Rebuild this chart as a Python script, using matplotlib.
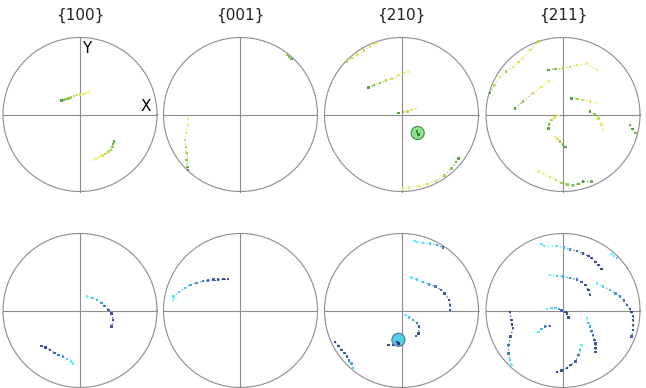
import matplotlib
matplotlib.use("Agg")
import matplotlib.pyplot as plt
import numpy as np
from matplotlib.colors import LinearSegmentedColormap
from matplotlib.collections import LineCollection
from matplotlib.patches import Circle

titles = ["{100}", "{001}", "{210}", "{211}"]

# Each arc: list of (x, y, t) in unit-circle coordinates; t = colour position
top_100 = [
    [(-0.24, 0.18, 0.0), (-0.21, 0.19, 0.1), (-0.18, 0.20, 0.2), (-0.15, 0.21, 0.3), (-0.12, 0.22, 0.4),
     (-0.08, 0.24, 0.5), (-0.04, 0.25, 0.6), (0.00, 0.26, 0.7), (0.04, 0.27, 0.8), (0.08, 0.28, 0.9), (0.12, 0.30, 1.0)],
    [(0.17, -0.59, 1.0), (0.21, -0.57, 0.9), (0.25, -0.55, 0.8), (0.29, -0.53, 0.7), (0.33, -0.51, 0.6),
     (0.37, -0.48, 0.5), (0.40, -0.46, 0.4), (0.42, -0.42, 0.3), (0.43, -0.38, 0.1), (0.44, -0.35, 0.0)],
]
top_001 = [
    [(0.61, 0.77, 0.3), (0.63, 0.75, 0.2), (0.66, 0.72, 0.0)],
    [(-0.68, -0.05, 1.0), (-0.68, -0.14, 0.9), (-0.71, -0.24, 0.75), (-0.72, -0.33, 0.6), (-0.71, -0.42, 0.5),
     (-0.70, -0.50, 0.4), (-0.70, -0.59, 0.3), (-0.69, -0.68, 0.1), (-0.68, -0.72, 0.0)],
]
top_210 = [
    [(-0.71, 0.69, 0.4), (-0.64, 0.73, 0.6), (-0.57, 0.78, 0.8), (-0.49, 0.83, 0.5), (-0.41, 0.88, 0.7), (-0.34, 0.93, 0.6)],
    [(-0.43, 0.35, 0.0), (-0.36, 0.38, 0.2), (-0.28, 0.41, 0.35), (-0.20, 0.44, 0.5), (-0.12, 0.47, 0.65),
     (-0.04, 0.51, 0.8), (0.03, 0.54, 0.9), (0.09, 0.56, 1.0)],
    [(-0.04, 0.02, 0.0), (0.02, 0.03, 0.2), (0.08, 0.04, 0.5), (0.13, 0.06, 0.8), (0.18, 0.07, 1.0)],
    [(0.02, -0.96, 1.0), (0.10, -0.95, 0.9), (0.22, -0.93, 0.8), (0.34, -0.90, 0.7), (0.45, -0.86, 0.6),
     (0.56, -0.79, 0.45), (0.65, -0.70, 0.3), (0.71, -0.62, 0.15), (0.74, -0.57, 0.0)],
]
top_211 = [
    [(-0.95, 0.28, 0.0), (-0.89, 0.38, 0.5), (-0.82, 0.49, 0.7), (-0.74, 0.56, 0.4), (-0.65, 0.62, 0.8),
     (-0.58, 0.68, 0.6), (-0.52, 0.73, 0.9), (-0.42, 0.84, 0.7), (-0.32, 0.95, 0.5)],
    [(-0.62, 0.08, 0.0), (-0.52, 0.17, 0.25), (-0.39, 0.28, 0.5), (-0.28, 0.36, 0.75), (-0.19, 0.43, 1.0)],
    [(-0.19, 0.58, 0.0), (-0.10, 0.59, 0.2), (0.00, 0.60, 0.4), (0.09, 0.62, 0.6), (0.18, 0.64, 0.7),
     (0.31, 0.66, 0.85), (0.44, 0.58, 1.0)],
    [(0.11, 0.21, 0.0), (0.19, 0.20, 0.35), (0.26, 0.19, 0.6), (0.35, 0.17, 0.8), (0.44, 0.15, 1.0)],
    [(0.35, 0.04, 0.0), (0.41, 0.00, 0.3), (0.46, -0.05, 0.6), (0.50, -0.13, 0.8), (0.52, -0.20, 1.0)],
    [(-0.06, -0.01, 1.0), (-0.11, -0.04, 0.7), (-0.15, -0.07, 0.4), (-0.18, -0.13, 0.2), (-0.19, -0.18, 0.0)],
    [(-0.10, -0.29, 1.0), (-0.07, -0.32, 0.6), (-0.04, -0.35, 0.3), (0.00, -0.39, 0.1), (0.03, -0.42, 0.0)],
    [(0.87, -0.14, 0.1), (0.90, -0.19, 0.0), (0.94, -0.24, 0.2)],
    [(-0.32, -0.74, 1.0), (-0.25, -0.77, 0.85), (-0.17, -0.81, 0.7), (-0.09, -0.85, 0.5), (-0.02, -0.89, 0.4),
     (0.06, -0.91, 0.3), (0.13, -0.92, 0.2), (0.20, -0.90, 0.1), (0.26, -0.87, 0.0), (0.37, -0.87, 0.1)],
]

bot_100 = [
    [(0.09, 0.18, 0.0), (0.16, 0.16, 0.15), (0.22, 0.14, 0.3), (0.28, 0.10, 0.45), (0.32, 0.06, 0.6),
     (0.37, 0.01, 0.75), (0.41, -0.04, 0.9), (0.43, -0.12, 1.0), (0.41, -0.21, 0.9)],
    [(-0.50, -0.46, 0.9), (-0.45, -0.48, 1.0), (-0.39, -0.51, 0.9), (-0.33, -0.55, 0.7), (-0.28, -0.58, 0.6),
     (-0.22, -0.60, 0.4), (-0.17, -0.63, 0.2), (-0.12, -0.66, 0.05), (-0.09, -0.69, 0.0)],
]
bot_001 = [
    [(-0.88, 0.14, 0.0), (-0.87, 0.18, 0.0), (-0.80, 0.24, 0.2), (-0.72, 0.29, 0.3), (-0.65, 0.33, 0.4),
     (-0.57, 0.36, 0.5), (-0.49, 0.38, 0.6), (-0.42, 0.39, 0.7), (-0.35, 0.40, 0.8), (-0.29, 0.40, 0.9),
     (-0.22, 0.41, 1.0), (-0.16, 0.41, 0.9)],
]
bot_210 = [
    [(0.17, 0.90, 0.0), (0.20, 0.89, 0.0), (0.28, 0.88, 0.1), (0.37, 0.87, 0.2), (0.46, 0.85, 0.4), (0.54, 0.82, 0.7)],
    [(0.13, 0.43, 0.0), (0.20, 0.40, 0.15), (0.28, 0.37, 0.3), (0.36, 0.34, 0.45), (0.44, 0.31, 0.6),
     (0.51, 0.27, 0.75), (0.56, 0.22, 0.85), (0.62, 0.14, 1.0), (0.63, 0.07, 0.95), (0.63, 0.01, 0.9)],
    [(0.05, -0.06, 0.0), (0.10, -0.09, 0.2), (0.15, -0.12, 0.4), (0.20, -0.16, 0.6), (0.23, -0.21, 0.8),
     (0.22, -0.30, 1.0), (0.19, -0.33, 0.9)],
    [(-0.17, -0.45, 1.0), (-0.11, -0.45, 0.9), (-0.05, -0.44, 0.8), (0.00, -0.41, 0.6)],
    [(-0.86, -0.41, 1.0), (-0.82, -0.46, 0.9), (-0.78, -0.51, 0.85), (-0.74, -0.55, 0.8), (-0.71, -0.60, 0.7),
     (-0.68, -0.65, 0.6), (-0.65, -0.69, 0.4), (-0.63, -0.75, 0.2)],
]
bot_211 = [
    [(-0.28, 0.86, 0.0), (-0.25, 0.84, 0.0), (-0.08, 0.84, 0.1), (0.01, 0.82, 0.3), (0.09, 0.79, 0.5),
     (0.18, 0.77, 0.7), (0.26, 0.74, 0.9), (0.33, 0.71, 1.0), (0.37, 0.68, 0.9), (0.42, 0.63, 1.0),
     (0.46, 0.59, 0.9), (0.50, 0.54, 1.0)],
    [(0.63, 0.73, 0.0), (0.66, 0.71, 0.0), (0.70, 0.68, 0.1)],
    [(-0.17, 0.46, 0.0), (-0.08, 0.45, 0.2), (0.00, 0.44, 0.35), (0.09, 0.42, 0.5), (0.18, 0.40, 0.65),
     (0.24, 0.37, 0.8), (0.29, 0.33, 0.9), (0.33, 0.27, 1.0), (0.35, 0.20, 0.95)],
    [(0.44, 0.35, 0.0), (0.52, 0.31, 0.15), (0.61, 0.27, 0.3), (0.68, 0.22, 0.45), (0.74, 0.18, 0.55),
     (0.79, 0.13, 0.65), (0.83, 0.07, 0.75), (0.87, 0.02, 0.9), (0.89, -0.02, 1.0), (0.91, -0.07, 0.9),
     (0.91, -0.12, 1.0), (0.91, -0.19, 0.9), (0.91, -0.25, 0.8), (0.89, -0.34, 0.9)],
    [(-0.21, 0.02, 0.0), (-0.15, 0.03, 0.1), (-0.10, 0.03, 0.2), (-0.05, 0.02, 0.4), (-0.02, 0.00, 0.7),
     (0.03, -0.02, 0.9), (0.05, -0.04, 1.0), (0.07, -0.09, 1.0)],
    [(-0.69, -0.02, 1.0), (-0.67, -0.12, 0.9), (-0.66, -0.18, 1.0), (-0.65, -0.23, 0.9), (-0.68, -0.34, 0.8),
     (-0.71, -0.45, 0.7), (-0.71, -0.56, 0.6), (-0.69, -0.64, 0.3), (-0.67, -0.71, 0.0)],
    [(-0.32, -0.28, 0.0), (-0.28, -0.24, 0.3), (-0.23, -0.21, 0.6), (-0.17, -0.20, 1.0)],
    [(0.31, -0.10, 0.0), (0.33, -0.16, 0.2), (0.35, -0.21, 0.4), (0.37, -0.27, 0.6), (0.39, -0.32, 0.7),
     (0.41, -0.38, 0.8), (0.42, -0.43, 0.9), (0.42, -0.49, 1.0), (0.42, -0.54, 0.9)],
    [(0.24, -0.45, 0.0), (0.22, -0.51, 0.3), (0.20, -0.58, 0.6), (0.16, -0.66, 0.8), (0.10, -0.71, 0.9),
     (0.05, -0.75, 1.0), (-0.02, -0.78, 0.9), (-0.08, -0.80, 1.0)],
]

top_arcs = [top_100, top_001, top_210, top_211]
bot_arcs = [bot_100, bot_001, bot_210, bot_211]

marker_top = (0.21, -0.24)
marker_bot = (-0.04, -0.38)

green_cmap = LinearSegmentedColormap.from_list("g", ["#4a9a30", "#8cce3a", "#cde84a", "#eef57a"])
blue_cmap = LinearSegmentedColormap.from_list("b", ["#50f0f8", "#38b4e0", "#3466b4", "#2c3c94"])

W, H = 646, 388
fig = plt.figure(figsize=(W / 100, H / 100), dpi=100)
fig.patch.set_facecolor("white")

cxs = [80, 240.5, 401.5, 563]
cys = [114.5, 310.5]
R = 77


def draw_panel(ax, arcs, cmap):
    th = np.linspace(0, 2 * np.pi, 400)
    ax.plot(np.cos(th), np.sin(th), color="#8c8c8c", lw=0.8, zorder=1)
    ax.plot([-1, 1], [0, 0], color="#8c8c8c", lw=0.8, zorder=1)
    ax.plot([0, 0], [-1, 1], color="#8c8c8c", lw=0.8, zorder=1)
    for arc in arcs:
        a = np.array(arc)
        xs, ys, ts = a[:, 0], a[:, 1], a[:, 2]
        segs = [[(xs[i], ys[i]), (xs[i + 1], ys[i + 1])] for i in range(len(xs) - 1)]
        cols = [cmap((ts[i] + ts[i + 1]) / 2) for i in range(len(xs) - 1)]
        lc = LineCollection(segs, colors=cols, linewidths=0.9, linestyles=(0, (1.2, 1.6)),
                            alpha=0.85, zorder=2)
        ax.add_collection(lc)
        ax.scatter(xs, ys, c=cmap(ts), s=3, marker="s", linewidths=0, alpha=0.9, zorder=3)
    ax.set_xlim(-1.02, 1.02)
    ax.set_ylim(-1.02, 1.02)
    ax.set_aspect("equal")
    ax.axis("off")


axes = []
for row, (cy, arcsets, cmap) in enumerate([(cys[0], top_arcs, green_cmap), (cys[1], bot_arcs, blue_cmap)]):
    for col, cx in enumerate(cxs):
        r = R * 1.02
        ax = fig.add_axes([(cx - r) / W, (H - cy - r) / H, 2 * r / W, 2 * r / H])
        draw_panel(ax, arcsets[col], cmap)
        axes.append(ax)
        if row == 0:
            fig.text(cx / W, 1 - 15 / H, titles[col], ha="center", va="center", fontsize=11, color="#222222")

# special markers in {210}
ax = axes[2]
ax.add_patch(Circle(marker_top, 0.085, facecolor="#8ee08a", edgecolor="#3f8f3f", lw=0.8, zorder=4))
ax.scatter([marker_top[0] - 0.01, marker_top[0] + 0.01], [marker_top[1] + 0.02, marker_top[1] - 0.02],
           c=["#3c8c28", "#3c8c28"], s=3, marker="s", linewidths=0, zorder=5)
ax = axes[6]
ax.add_patch(Circle(marker_bot, 0.085, facecolor="#50d0e8", edgecolor="#5a7090", lw=0.8, zorder=4))
ax.scatter([marker_bot[0] - 0.02, marker_bot[0]], [marker_bot[1] - 0.03, marker_bot[1] - 0.05],
           c=["#28358a", "#28358a"], s=3, marker="s", linewidths=0, zorder=5)

# axis labels on first panel
axes[0].text(0.09, 0.86, "Y", ha="center", va="center", fontsize=11, color="black")
axes[0].text(0.85, 0.10, "X", ha="center", va="center", fontsize=11, color="black")

fig.savefig("out.png", dpi=100, facecolor="white")
